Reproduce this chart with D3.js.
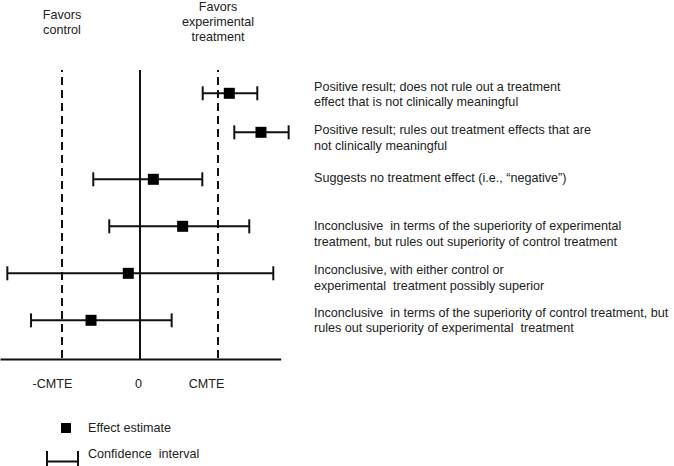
<!DOCTYPE html>
<html>
<head>
<meta charset="utf-8">
<script src="https://cdn.jsdelivr.net/npm/d3@7"></script>
<style>
  body { margin: 0; background: #fff; }
  svg { display: block; }
  text { font-family: "Liberation Sans", Arial, sans-serif; font-size: 12.6px; fill: #222; }
</style>
</head>
<body>
<script>
const width = 674, height = 466

// one entry per hypothetical trial, top to bottom (units of CMTE)
const estimates = [1.145, 1.551, 0.171, 0.547, -0.15, -0.628]
const ciLow = [0.804, 1.209, -0.599, -0.394, -1.701, -1.397]
const ciHigh = [1.504, 1.906, 0.799, 1.401, 1.709, 0.406]
const slots = [0, 0.83, 1.83, 2.83, 3.83, 4.83]
const interpretations = [
    ["Positive result; does not rule out a treatment", "effect that is not clinically meaningful"],
    ["Positive result; rules out treatment effects that are", "not clinically meaningful"],
    ["Suggests no treatment effect (i.e., \u201cnegative\u201d)"],
    ["Inconclusive  in terms of the superiority of experimental", "treatment, but rules out superiority of control treatment"],
    ["Inconclusive, with either control or", "experimental  treatment possibly superior"],
    ["Inconclusive  in terms of the superiority of control treatment, but", "rules out superiority of experimental  treatment"]
]
const refValues = [-1, 0, 1]
const tickLabels = ["-CMTE", "0", "CMTE"]
const headers = [
    {v: -1, lines: ["Favors", "control"]},
    {v: 1, lines: ["Favors", "experimental", "treatment"]}
]

// layout bits
const labelBaselines = [90.7, 134, 182, 230, 274, 316.7]
const tickNudge = [-10, -2, -12]
const capH = 7, sq = 11

const x = d3.scaleLinear().domain([-1.795, 1.804]).range([0, 280.7])
const y = d3.scaleLinear().domain([0, 1]).range([93.3, 140.3])
const axisY = 359
const topY = 70

const svg = d3.select("body").append("svg")
    .attr("width", width)
    .attr("height", height)

// reference lines
svg.selectAll(".ref").data(refValues).enter()
    .append("line")
    .attr("class", "ref")
    .attr("x1", d => x(d)).attr("x2", d => x(d))
    .attr("y1", topY).attr("y2", axisY)
    .attr("stroke", "#111")
    .attr("stroke-width", 2)
    .attr("stroke-dasharray", d => d === 0 ? null : "8,5")
    .attr("stroke-dashoffset", 6)

// axis
const axis = d3.axisBottom(x)
    .tickValues(refValues)
    .tickSize(0)
    .tickPadding(20)
    .tickFormat((d, i) => tickLabels[i])
const ax = svg.append("g")
    .attr("transform", `translate(0,${axisY})`)
    .call(axis)
ax.select(".domain").attr("stroke", "#111").attr("stroke-width", 2)
ax.selectAll(".tick text")
    .attr("dx", (d, i) => tickNudge[i])
    .style("font-family", "\"Liberation Sans\", Arial, sans-serif")
    .style("font-size", "12.6px")
    .attr("fill", "#222")

// headers
headers.forEach(h => {
    const t = svg.append("text")
        .attr("text-anchor", "middle")
        .attr("x", x(h.v))
        .attr("y", h.lines.length === 2 ? 19 : 10.5)
    h.lines.forEach((l, i) => t.append("tspan").attr("x", x(h.v)).attr("dy", i ? 15.2 : 0).text(l))
})

// confidence intervals
const rows = estimates.map((e, i) => ({e, lo: ciLow[i], hi: ciHigh[i], s: slots[i], txt: interpretations[i], base: labelBaselines[i]}))
const row = svg.selectAll(".row").data(rows).enter()
    .append("g").attr("class", "row")

row.append("line")
    .attr("x1", d => x(d.lo)).attr("x2", d => x(d.hi))
    .attr("y1", d => y(d.s)).attr("y2", d => y(d.s))
    .attr("stroke", "#111").attr("stroke-width", 2)
row.selectAll(".cap").data(d => [d.lo, d.hi].map(v => ({v, s: d.s}))).enter()
    .append("line").attr("class", "cap")
    .attr("x1", d => x(d.v)).attr("x2", d => x(d.v))
    .attr("y1", d => y(d.s) - capH).attr("y2", d => y(d.s) + capH)
    .attr("stroke", "#111").attr("stroke-width", 2)
row.append("rect")
    .attr("x", d => x(d.e) - sq / 2).attr("y", d => y(d.s) - sq / 2)
    .attr("width", sq).attr("height", sq)
    .attr("fill", "#000")

const lbl = row.append("text").attr("y", d => d.base)
lbl.selectAll("tspan").data(d => d.txt).enter()
    .append("tspan")
    .attr("x", 314)
    .attr("dy", (d, i) => i ? 15.7 : 0)
    .style("white-space", "pre")
    .text(d => d)

// legend
const leg = svg.append("g")
leg.append("rect").attr("x", 61).attr("y", 423).attr("width", sq - 1).attr("height", sq - 1).attr("fill", "#000")
leg.append("text").attr("x", 88).attr("y", 431.5).text("Effect estimate")
leg.append("line").attr("x1", 47).attr("x2", 78).attr("y1", 461.5).attr("y2", 461.5).attr("stroke", "#111").attr("stroke-width", 2)
leg.selectAll(".lcap").data([47, 78]).enter().append("line")
    .attr("x1", d => d).attr("x2", d => d).attr("y1", 451).attr("y2", 472)
    .attr("stroke", "#111").attr("stroke-width", 2)
leg.append("text").attr("x", 88).attr("y", 458).style("white-space", "pre").text("Confidence  interval")
</script>
</body>
</html>
